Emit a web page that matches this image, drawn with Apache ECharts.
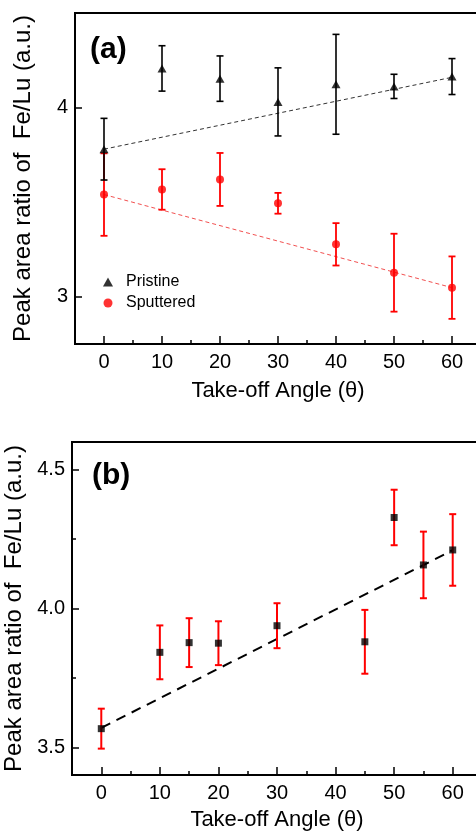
<!DOCTYPE html>
<html>
<head>
<meta charset="utf-8">
<title>Fe/Lu peak area ratio vs take-off angle</title>
<script src="https://cdn.jsdelivr.net/npm/echarts@6/dist/echarts.min.js"></script>
<style>
  html, body { margin: 0; padding: 0; background: #fff; }
  #chart { width: 476px; height: 831px; }
</style>
</head>
<body>
<div id="chart"></div>
<script>
// ---- Panel (a): pristine vs sputtered ----
const anglesA = [0, 10, 20, 30, 40, 50, 60];
const pristine = [3.78, 4.207, 4.153, 4.03, 4.123, 4.112, 4.164];
const pristineErr = [0.163, 0.12, 0.12, 0.18, 0.264, 0.064, 0.095];
const sputtered = [3.54, 3.567, 3.62, 3.494, 3.277, 3.127, 3.048];
const sputteredErr = [0.218, 0.107, 0.14, 0.055, 0.112, 0.206, 0.165];
const pristineFit = [[0, 3.78], [60, 4.16]];
const sputteredFit = [[0, 3.54], [60, 3.048]];

// ---- Panel (b) ----
const anglesB = [0, 10, 15, 20, 30, 45, 50, 55, 60];
const ratioB = [3.567, 3.842, 3.877, 3.875, 3.938, 3.880, 4.328, 4.157, 4.211];
const ratioBErr = [0.072, 0.097, 0.088, 0.079, 0.081, 0.115, 0.1, 0.12, 0.129];
const fitB = [[0, 3.57], [60, 4.21]];

// ---- Tick positions ----
const xMajorTicks = [0, 10, 20, 30, 40, 50, 60];
const xMinorTicks = [5, 15, 25, 35, 45, 55];
const yTicksA = [3, 4];
const yTicksB = [3.5, 4.0, 4.5];
const yMinorB = [3.75, 4.25];

const FONT = '"Liberation Sans", Arial, Helvetica, sans-serif';
const RED = '#ff0000';

function toPairs(xs, ys) { return xs.map((x, i) => [x, ys[i]]); }
function toBars(xs, ys, es) { return xs.map((x, i) => [x, ys[i] - es[i], ys[i] + es[i]]); }

// vertical error bar with short caps
function errorBar(color, lw, capHalf) {
  return function (params, api) {
    const x = api.value(0);
    const top = api.coord([x, api.value(2)]);
    const bot = api.coord([x, api.value(1)]);
    const st = { stroke: color, lineWidth: lw };
    return {
      type: 'group',
      children: [
        { type: 'line', shape: { x1: top[0], y1: top[1], x2: bot[0], y2: bot[1] }, style: st },
        { type: 'line', shape: { x1: top[0] - capHalf, y1: top[1], x2: top[0] + capHalf, y2: top[1] }, style: st },
        { type: 'line', shape: { x1: bot[0] - capHalf, y1: bot[1], x2: bot[0] + capHalf, y2: bot[1] }, style: st }
      ]
    };
  };
}

function mainX(gridIndex, nameGap) {
  return {
    type: 'value', gridIndex, min: -5, max: 65, position: 'bottom',
    axisLine: { onZero: false, lineStyle: { color: '#000', width: 2 } },
    axisTick: { inside: true, length: 8, customValues: xMajorTicks, lineStyle: { color: '#000', width: 1.5 } },
    axisLabel: { customValues: xMajorTicks, color: '#000', fontSize: 20, fontFamily: FONT, margin: 8 },
    splitLine: { show: false },
    name: 'Take-off Angle (\u03b8)', nameLocation: 'middle', nameGap,
    nameTextStyle: { color: '#000', fontSize: 22, fontFamily: FONT }
  };
}
function minorX(gridIndex) {
  return {
    type: 'value', gridIndex, min: -5, max: 65, position: 'bottom',
    axisLine: { show: false, onZero: false },
    axisTick: { inside: true, length: 4, customValues: xMinorTicks, lineStyle: { color: '#000', width: 1.5 } },
    axisLabel: { show: false }, splitLine: { show: false }
  };
}
function mainY(gridIndex, min, max, ticks, fmt) {
  return {
    type: 'value', gridIndex, min, max, position: 'left',
    axisLine: { show: true, onZero: false, lineStyle: { color: '#000', width: 2 } },
    axisTick: { show: true, inside: true, length: 7, customValues: ticks, lineStyle: { color: '#000', width: 1.5 } },
    axisLabel: { customValues: ticks, color: '#000', fontSize: 20, fontFamily: FONT, margin: 7, formatter: fmt },
    splitLine: { show: false },
    name: 'Peak area ratio of  Fe/Lu (a.u.)', nameLocation: 'middle', nameRotate: 90, nameGap: 40,
    nameTextStyle: { color: '#000', fontSize: 24, fontFamily: FONT }
  };
}

const option = {
  animation: false,
  backgroundColor: '#fff',
  grid: [
    { left: 75, top: 13, width: 406, height: 331, outerBoundsMode: 'none', containLabel: false,
      show: true, borderColor: '#000', borderWidth: 2, backgroundColor: 'transparent' },
    { left: 72, top: 442, width: 410, height: 333, outerBoundsMode: 'none', containLabel: false,
      show: true, borderColor: '#000', borderWidth: 2, backgroundColor: 'transparent' }
  ],
  xAxis: [mainX(0, 36), minorX(0), mainX(1, 34), minorX(1)],
  yAxis: [
    mainY(0, 2.75, 4.5, yTicksA, v => String(v)),
    mainY(1, 3.4, 4.6, yTicksB, v => v.toFixed(1)),
    {
      type: 'value', gridIndex: 1, min: 3.4, max: 4.6, position: 'left',
      axisLine: { show: false, onZero: false },
      axisTick: { show: true, inside: true, length: 4, customValues: yMinorB, lineStyle: { color: '#000', width: 1.5 } },
      axisLabel: { show: false }, splitLine: { show: false }
    }
  ],
  legend: {
    data: [{ name: 'Pristine', icon: 'triangle' }, { name: 'Sputtered', icon: 'circle' }],
    orient: 'vertical', left: 98, top: 269,
    itemWidth: 10, itemHeight: 9, itemGap: 5,
    textStyle: { color: '#000', fontSize: 16, fontFamily: FONT, padding: [0, 0, 0, 8] },
    selectedMode: false
  },
  graphic: [
    { type: 'text', left: 90, top: 35, style: { text: '(a)', fontSize: 30, fontWeight: 'bold', fontFamily: FONT, fill: '#000' } },
    { type: 'text', left: 92, top: 461, style: { text: '(b)', fontSize: 30, fontWeight: 'bold', fontFamily: FONT, fill: '#000' } }
  ],
  series: [
    // panel (a) fits
    { type: 'line', xAxisIndex: 0, yAxisIndex: 0, data: pristineFit, symbol: 'none',
      lineStyle: { color: '#333', width: 1, type: [4, 3] }, silent: true, z: 1 },
    { type: 'line', xAxisIndex: 0, yAxisIndex: 0, data: sputteredFit, symbol: 'none',
      lineStyle: { color: '#f25050', width: 1, type: [4, 3] }, silent: true, z: 1 },
    // panel (a) error bars
    { type: 'custom', xAxisIndex: 0, yAxisIndex: 0, data: toBars(anglesA, sputtered, sputteredErr),
      renderItem: errorBar(RED, 1.8, 3.5), z: 2 },
    { type: 'custom', xAxisIndex: 0, yAxisIndex: 0, data: toBars(anglesA, pristine, pristineErr),
      renderItem: errorBar('#000', 1.6, 3.5), z: 2 },
    // panel (a) markers
    { name: 'Sputtered', type: 'scatter', xAxisIndex: 0, yAxisIndex: 0, data: toPairs(anglesA, sputtered),
      symbol: 'circle', symbolSize: 8, itemStyle: { color: RED }, z: 3 },
    { name: 'Pristine', type: 'scatter', xAxisIndex: 0, yAxisIndex: 0, data: toPairs(anglesA, pristine),
      symbol: 'triangle', symbolSize: [9, 8], itemStyle: { color: '#000' }, z: 4 },
    // panel (b)
    { type: 'line', xAxisIndex: 2, yAxisIndex: 1, data: fitB, symbol: 'none',
      lineStyle: { color: '#000', width: 2, type: [10, 7] }, silent: true, z: 1 },
    { type: 'custom', xAxisIndex: 2, yAxisIndex: 1, data: toBars(anglesB, ratioB, ratioBErr),
      renderItem: errorBar(RED, 2, 3.5), z: 2 },
    { name: 'Fe/Lu', type: 'scatter', xAxisIndex: 2, yAxisIndex: 1, data: toPairs(anglesB, ratioB),
      symbol: 'rect', symbolSize: 7, itemStyle: { color: '#000' }, z: 3 }
  ]
};

const chart = echarts.init(document.getElementById('chart'), null, { renderer: 'canvas' });
chart.setOption(option);
</script>
</body>
</html>
